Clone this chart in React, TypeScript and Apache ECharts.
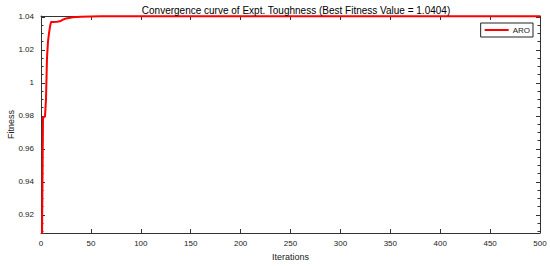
import React, { useEffect, useRef } from "react";
import * as echarts from "echarts";

const titleText = "Convergence curve of Expt. Toughness (Best Fitness Value = 1.0404)";
const seriesName = "ARO";
const iterations = [1, 2, 3, 4, 5, 6, 7, 8, 9, 10, 12, 16, 19, 22, 25, 28, 32, 40, 50, 60, 500];
const fitness = [0.905, 0.979, 0.9793, 0.9795, 0.99, 1.015, 1.025, 1.03, 1.034, 1.0368, 1.0369, 1.037, 1.0373, 1.0383, 1.039, 1.0393, 1.0397, 1.04, 1.0402, 1.0404, 1.0404];
const xTicks = [0, 50, 100, 150, 200, 250, 300, 350, 400, 450, 500];
const yMajorTicks = [0.92, 0.94, 0.96, 0.98, 1, 1.02, 1.04];
const yMinorTicks = [0.91, 0.915, 0.925, 0.93, 0.935, 0.945, 0.95, 0.955, 0.965, 0.97, 0.975, 0.985, 0.99, 0.995, 1.005, 1.01, 1.015, 1.025, 1.03, 1.035];

const Y_MIN = 0.909;
const Y_MAX = 1.0405;
const AXIS_COLOR = "#333";
const FONT = "Liberation Sans";

export default function App() {
  const ref = useRef<HTMLDivElement>(null);
  useEffect(() => {
    const chart = echarts.init(ref.current!, null, { renderer: "svg" });
    const yBase = (pos: "left" | "right", minor: boolean, labels: boolean) => ({
      type: "value",
      position: pos,
      min: Y_MIN,
      max: Y_MAX,
      axisLine: { show: !minor, lineStyle: { color: AXIS_COLOR, width: 1 } },
      axisTick: {
        show: true,
        inside: true,
        length: minor ? 2.5 : 4,
        customValues: minor ? yMinorTicks : yMajorTicks,
        lineStyle: { color: AXIS_COLOR },
      },
      axisLabel: {
        show: labels,
        customValues: yMajorTicks,
        fontSize: 8,
        fontFamily: FONT,
        color: "#222",
        margin: 7,
        formatter: (v: number) => String(Math.round(v * 100) / 100),
      },
      splitLine: { show: false },
    });
    const yAxes: any[] = [
      {
        ...yBase("left", false, true),
        name: "Fitness",
        nameLocation: "middle",
        nameGap: 26,
        nameMoveOverlap: false,
        nameTextStyle: { fontSize: 9, fontFamily: FONT, color: "#222" },
      },
      yBase("left", true, false),
      yBase("right", false, false),
      yBase("right", true, false),
    ];
    chart.setOption({
      animation: false,
      backgroundColor: "#fff",
      title: {
        text: titleText,
        left: 291,
        textAlign: "center",
        top: 0,
        textStyle: { fontSize: 10, fontWeight: "normal", fontFamily: FONT, color: "#000" },
      },
      legend: {
        data: [seriesName],
        right: 17,
        top: 23,
        icon: "rect",
        itemWidth: 24,
        itemHeight: 2,
        itemGap: 4,
        padding: [3, 3, 3, 4],
        borderColor: "#222",
        borderWidth: 1,
        backgroundColor: "#fff",
        textStyle: { fontSize: 8, fontFamily: FONT, color: "#222", padding: [0, 0, 0, -1] },
      },
      grid: { left: 41, right: 10, top: 16, bottom: 33, containLabel: false, outerBoundsMode: "none" },
      xAxis: [
        {
          type: "value",
          position: "bottom",
          min: 0,
          max: 500,
          interval: 50,
          name: "Iterations",
          nameLocation: "middle",
          nameGap: 19,
          nameMoveOverlap: false,
          nameTextStyle: { fontSize: 9, fontFamily: FONT, color: "#222" },
          axisLine: { lineStyle: { color: AXIS_COLOR } },
          axisTick: { inside: true, length: 4, customValues: xTicks, lineStyle: { color: AXIS_COLOR } },
          axisLabel: { fontSize: 8, fontFamily: FONT, color: "#222", margin: 6, customValues: xTicks },
          splitLine: { show: false },
        },
        {
          type: "value",
          position: "top",
          min: 0,
          max: 500,
          interval: 50,
          axisLine: { lineStyle: { color: AXIS_COLOR } },
          axisTick: { inside: true, length: 4, customValues: xTicks, lineStyle: { color: AXIS_COLOR } },
          axisLabel: { show: false },
          splitLine: { show: false },
        },
      ],
      yAxis: yAxes,
      series: [
        {
          name: seriesName,
          type: "line",
          xAxisIndex: 0,
          yAxisIndex: 0,
          data: iterations.map((it, i) => [it, fitness[i]]),
          showSymbol: false,
          lineStyle: { color: "#ff0000", width: 2 },
          itemStyle: { color: "#ff0000" },
          clip: true,
          z: 3,
        },
      ],
    });
    return () => chart.dispose();
  }, []);
  return <div ref={ref} style={{ width: 550, height: 266, position: "absolute", left: 0, top: 0 }} />;
}
